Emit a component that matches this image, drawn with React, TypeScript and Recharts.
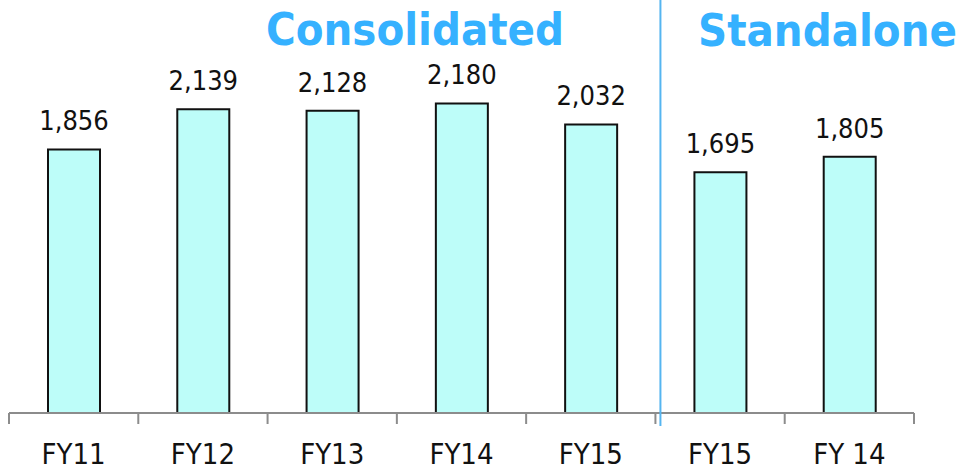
import React from 'react';
import { BarChart, Bar, XAxis, YAxis, LabelList, Customized } from 'recharts';

// revenue, Rs crore
const categories = ['FY11', 'FY12', 'FY13', 'FY14', 'FY15', 'FY15', 'FY 14'];
const revenue = [1856, 2139, 2128, 2180, 2032, 1695, 1805];
const groupTitles = ['Consolidated', 'Standalone'];
const consolidatedCount = 5;

const data = categories.map((name, i) => ({ name, value: revenue[i] }));

const W = 963;
const H = 472;
const margin = { top: 58, right: 49, bottom: 0, left: 9 };
const band = (W - margin.left - margin.right) / categories.length;
const font = '"DejaVu Sans Condensed", "DejaVu Sans", sans-serif';
const axisGray = '#8c8c8c';
const titleBlue = '#35b1ff';

function CategoryTick(props: any) {
  const { x, y, payload, index } = props;
  const left = x - band / 2;
  return (
    <g>
      <line x1={left} x2={left} y1={y} y2={y + 11} stroke={axisGray} strokeWidth={2} />
      {index === categories.length - 1 && (
        <line x1={left + band} x2={left + band} y1={y} y2={y + 11} stroke={axisGray} strokeWidth={2} />
      )}
      {index === consolidatedCount && (
        <line x1={left + 5} x2={left + 5} y1={0} y2={y + 13} stroke="#55b5f0" strokeWidth={2} />
      )}
      <text x={x} y={y + 51} textAnchor="middle" fontSize={29} fill="#111" fontFamily={font}>
        {payload.value}
      </text>
    </g>
  );
}

function Titles() {
  return (
    <g fontFamily={font} fontWeight="bold" fontSize={45} fill={titleBlue}>
      <text x={415} y={45} textAnchor="middle">{groupTitles[0]}</text>
      <text x={698} y={46} textAnchor="start">{groupTitles[1]}</text>
    </g>
  );
}

export default function App() {
  return (
    <div style={{ position: 'absolute', left: 0, top: 0, width: W, height: H, background: '#fff' }}>
      <BarChart width={W} height={H} data={data} margin={margin}>
        <XAxis
          dataKey="name"
          height={59}
          tick={<CategoryTick />}
          tickLine={false}
          tickSize={0}
          tickMargin={0}
          axisLine={{ stroke: axisGray, strokeWidth: 2 }}
          interval={0}
        />
        <YAxis hide domain={[0, 2500]} />
        <Bar dataKey="value" barSize={52} fill="#bdfdf9" stroke="#111" strokeWidth={2} isAnimationActive={false}>
          <LabelList
            dataKey="value"
            position="top"
            offset={19}
            fontSize={27}
            fill="#111"
            fontFamily={font}
            formatter={(v: any) => Number(v).toLocaleString('en-US')}
          />
        </Bar>
        <Customized component={<Titles />} />
      </BarChart>
    </div>
  );
}
